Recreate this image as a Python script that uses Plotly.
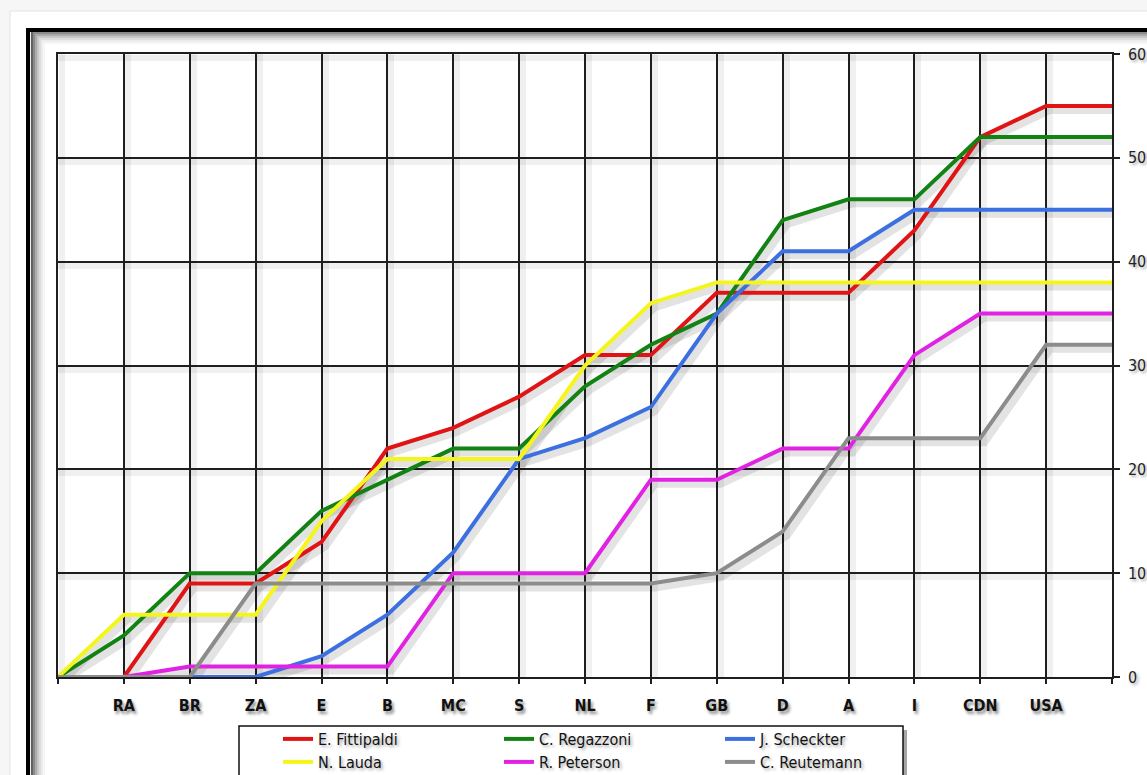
import plotly.graph_objects as go

# ---- data ----
categories = ["", "RA", "BR", "ZA", "E", "B", "MC", "S", "NL", "F", "GB", "D", "A", "I", "CDN", "USA", ""]
fittipaldi = [0, 0, 9, 9, 13, 22, 24, 27, 31, 31, 37, 37, 37, 43, 52, 55, 55]
regazzoni = [0, 4, 10, 10, 16, 19, 22, 22, 28, 32, 35, 44, 46, 46, 52, 52, 52]
scheckter = [0, 0, 0, 0, 2, 6, 12, 21, 23, 26, 35, 41, 41, 45, 45, 45, 45]
lauda = [0, 6, 6, 6, 15, 21, 21, 21, 30, 36, 38, 38, 38, 38, 38, 38, 38]
peterson = [0, 0, 1, 1, 1, 1, 10, 10, 10, 19, 19, 22, 22, 31, 35, 35, 35]
reutemann = [0, 0, 0, 9, 9, 9, 9, 9, 9, 9, 10, 14, 23, 23, 23, 32, 32]
y_ticks = [0, 10, 20, 30, 40, 50, 60]

series = [
    ("E. Fittipaldi", fittipaldi, "#e01414", "legend"),
    ("C. Regazzoni", regazzoni, "#128212", "legend"),
    ("J. Scheckter", scheckter, "#3c6fe0", "legend"),
    ("N. Lauda", lauda, "#f5f51e", "legend2"),
    ("R. Peterson", peterson, "#e222e2", "legend2"),
    ("C. Reutemann", reutemann, "#8c8c8c", "legend2"),
]

x_idx = list(range(len(categories)))

W, H = 1147, 775
L, R, T, B = 58, 35, 54, 98
PW, PH = W - L - R, H - T - B
NX = len(categories) - 1


def px(xp):
    return (xp - L) / PW


def py(yp):
    return (H - B - yp) / PH


fig = go.Figure()

# soft shadows (base axes, shifted ranges)
for name, vals, col, lg in series:
    fig.add_trace(go.Scatter(
        x=x_idx, y=vals, mode="lines", xaxis="x", yaxis="y",
        line=dict(color="rgba(0,0,0,0.11)", width=8),
        showlegend=False, hoverinfo="skip", cliponaxis=False))

# main lines
for name, vals, col, lg in series:
    fig.add_trace(go.Scatter(
        x=x_idx, y=vals, mode="lines", name=name, xaxis="x2", yaxis="y2",
        line=dict(color=col, width=4), legend=lg, cliponaxis=False))

sx = 4 / (PW / NX)
sy = 4 / (PH / 60.0)
lab_font = "Liberation Sans Narrow, DejaVu Sans Condensed, Arial Narrow, sans-serif"

fig.update_layout(
    width=W, height=H,
    margin=dict(l=L, r=R, t=T, b=B, autoexpand=False),
    paper_bgcolor="#f6f6f6",
    plot_bgcolor="rgba(0,0,0,0)",
    xaxis=dict(range=[-sx, NX - sx], tickvals=x_idx, showticklabels=False,
               showgrid=True, gridcolor="rgba(0,0,0,0.06)", gridwidth=6,
               zeroline=False, showline=False, ticks="", automargin=False),
    yaxis=dict(range=[sy, 60 + sy], tickvals=y_ticks, showticklabels=False,
               showgrid=True, gridcolor="rgba(0,0,0,0.06)", gridwidth=6,
               zeroline=False, showline=False, ticks="", automargin=False),
    xaxis2=dict(range=[0, NX], overlaying="x", side="bottom", anchor="y2",
                tickmode="array", tickvals=x_idx, ticktext=categories,
                showgrid=True, gridcolor="#1e1e1e", gridwidth=1.5,
                zeroline=False, showline=True, mirror=True, linecolor="#1e1e1e", linewidth=1.5,
                ticks="outside", ticklen=5, tickcolor="#1e1e1e", tickwidth=1.5,
                ticklabelstandoff=8, automargin=False,
                tickfont=dict(family=lab_font, size=16, color="#111", weight="bold",
                              shadow="2px 3px 3px rgba(0,0,0,0.45)")),
    yaxis2=dict(range=[0, 60], overlaying="y", side="right", anchor="x2",
                tickvals=y_ticks,
                showgrid=True, gridcolor="#1e1e1e", gridwidth=1.5,
                zeroline=False, showline=True, mirror=True, linecolor="#1e1e1e", linewidth=1.5,
                ticks="outside", ticklen=6, tickcolor="#1e1e1e", tickwidth=1.5,
                ticklabelstandoff=5, automargin=False,
                tickfont=dict(family=lab_font, size=16, color="#222",
                              shadow="2px 2px 3px rgba(0,0,0,0.35)")),
    legend=dict(orientation="h", x=px(278), xanchor="left", y=py(739), yanchor="middle",
                bgcolor="rgba(0,0,0,0)", borderwidth=0, entrywidth=176,
                font=dict(family=lab_font, size=16, color="#111",
                          shadow="2px 2px 3px rgba(0,0,0,0.35)")),
    legend2=dict(orientation="h", x=px(278), xanchor="left", y=py(762), yanchor="middle",
                 bgcolor="rgba(0,0,0,0)", borderwidth=0, entrywidth=176,
                 font=dict(family=lab_font, size=16, color="#111",
                           shadow="2px 2px 3px rgba(0,0,0,0.35)")),
    showlegend=True,
)

shapes = []
# white page panel with faint border
shapes.append(dict(type="rect", xref="paper", yref="paper", layer="below",
                   x0=px(10), x1=px(1200), y0=py(820), y1=py(11),
                   fillcolor="white", line=dict(color="#e2e2e2", width=1)))
# inner shadow gradient of frame
for i, c in enumerate(["#606060", "#8a8a8a", "#aaaaaa", "#c6c6c6", "#dcdcdc", "#ececec", "#f6f6f6"]):
    o = 32 + i * 2
    shapes.append(dict(type="rect", xref="paper", yref="paper", layer="below",
                       x0=px(o), x1=px(1250), y0=py(850), y1=py(o - 1),
                       line=dict(color=c, width=2.2)))
# black frame
shapes.append(dict(type="rect", xref="paper", yref="paper", layer="below",
                   x0=px(28), x1=px(1250), y0=py(850), y1=py(30),
                   line=dict(color="#000", width=4)))
# legend box shadow + box
shapes.append(dict(type="rect", xref="paper", yref="paper", layer="below",
                   x0=px(243), x1=px(907), y0=py(820), y1=py(730),
                   fillcolor="rgba(0,0,0,0.35)", line=dict(width=0)))
shapes.append(dict(type="rect", xref="paper", yref="paper", layer="below",
                   x0=px(239), x1=px(903), y0=py(820), y1=py(726),
                   fillcolor="white", line=dict(color="#111", width=1.5)))
fig.update_layout(shapes=shapes)

fig.write_html("out.html", config={"displayModeBar": False},
               post_script="document.body.style.margin='0';document.body.style.overflow='hidden';")
